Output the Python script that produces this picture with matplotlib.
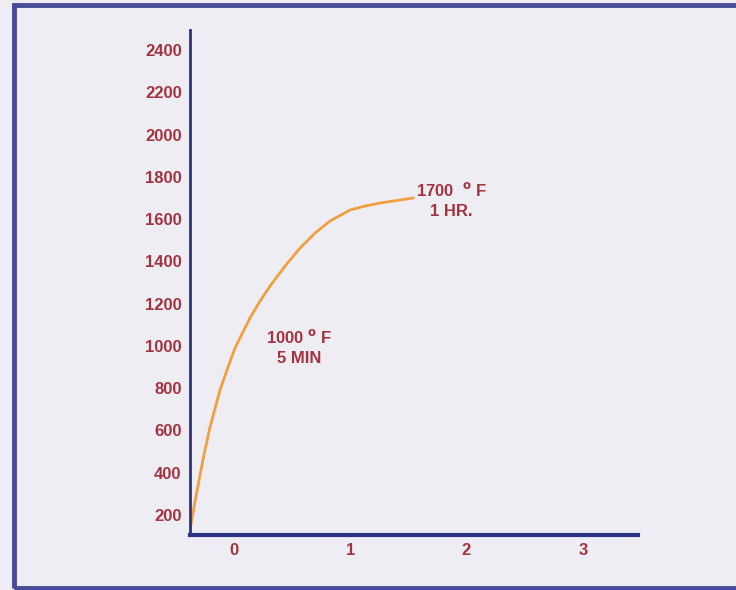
import matplotlib.pyplot as plt
from matplotlib.patches import Rectangle

# fire test curve (time in hours, temperature in deg F)
hours = [-0.377, -0.334, -0.291, -0.248, -0.205, -0.119, -0.050, 0.010, 0.139, 0.225,
         0.311, 0.440, 0.569, 0.698, 0.827, 0.999, 1.128, 1.257, 1.541]
temps = [129, 262, 389, 508, 616, 791, 900, 990, 1132, 1212,
         1283, 1378, 1463, 1534, 1591, 1643, 1662, 1676, 1700]

y_ticks = [200, 400, 600, 800, 1000, 1200, 1400, 1600, 1800, 2000, 2200, 2400]
x_ticks = [0, 1, 2, 3]

red = '#a3333f'
navy = '#2f3384'
plt.rcParams['font.family'] = ['Liberation Sans', 'DejaVu Sans']

fig = plt.figure(figsize=(7.36, 5.90), dpi=100)
fig.patch.set_facecolor('#eeedf4')

# outer blue frame
fig.patches.append(Rectangle((14 / 736, 2 / 590), 740 / 736, 583 / 590, transform=fig.transFigure,
                             fill=False, edgecolor='#474c98', linewidth=3.5))

ax = fig.add_axes([190 / 736, 1 - 535 / 590, (638 - 190) / 736, 505 / 590])
ax.set_facecolor('none')
ax.plot(hours, temps, color='#f0a040', linewidth=2, solid_joinstyle='round')

ax.set_xlim(-0.377, 3.475)
ax.set_ylim(105, 2495)
ax.set_yticks(y_ticks)
ax.set_xticks(x_ticks)
ax.tick_params(length=0, colors=red, labelsize=12, pad=6)
for lab in ax.get_xticklabels() + ax.get_yticklabels():
    lab.set_fontweight('bold')
ax.tick_params(axis='x', pad=6)

for s in ['top', 'right']:
    ax.spines[s].set_visible(False)
ax.spines['left'].set_color(navy)
ax.spines['left'].set_linewidth(2)
ax.spines['bottom'].set_color(navy)
ax.spines['bottom'].set_linewidth(3)

# annotations
ax.text(1.87, 1690, '1700  $^{\\mathbf{o}}$ F\n1 HR.', color=red, fontsize=12, fontweight='bold',
        ha='center', va='center', linespacing=1.35)
ax.text(0.56, 995, '1000 $^{\\mathbf{o}}$ F\n5 MIN', color=red, fontsize=12, fontweight='bold',
        ha='center', va='center', linespacing=1.35)

fig.savefig('out.png', dpi=100, facecolor=fig.get_facecolor())
